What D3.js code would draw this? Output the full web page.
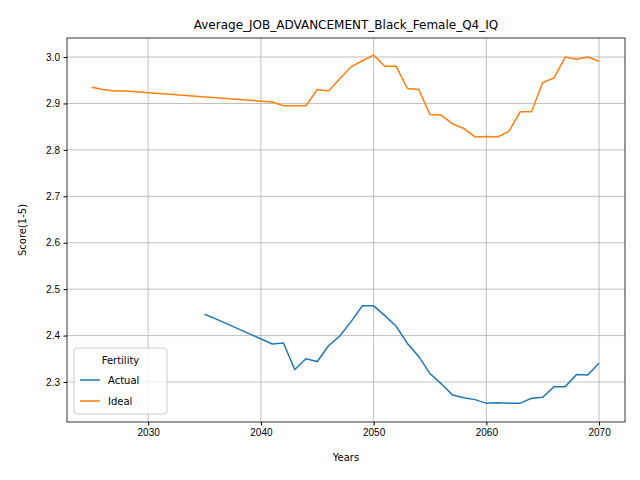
<!DOCTYPE html>
<html><head><meta charset="utf-8">
<script src="https://cdn.jsdelivr.net/npm/d3@7"></script>
<style>body{margin:0;background:#fff}svg{font-family:"DejaVu Sans",sans-serif}</style>
</head><body><svg id="c" width="640" height="480"></svg>
<script>
const idealYears = [2025,2026,2027,2028,2041,2042,2043,2044,2045,2046,2047,2048,2049,2050,2051,2052,2053,2054,2055,2056,2057,2058,2059,2060,2061,2062,2063,2064,2065,2066,2067,2068,2069,2070];
const idealVals = [2.935,2.930,2.927,2.927,2.903,2.895,2.895,2.895,2.930,2.927,2.953,2.979,2.992,3.004,2.980,2.980,2.932,2.930,2.876,2.875,2.856,2.846,2.828,2.829,2.828,2.840,2.882,2.882,2.945,2.955,3.000,2.995,3.000,2.991];
const actualYears = [2035,2036,2041,2042,2043,2044,2045,2046,2047,2048,2049,2050,2051,2052,2053,2054,2055,2056,2057,2058,2059,2060,2061,2062,2063,2064,2065,2066,2067,2068,2069,2070];
const actualVals = [2.446,2.436,2.382,2.384,2.327,2.350,2.344,2.378,2.399,2.430,2.464,2.464,2.443,2.420,2.383,2.355,2.318,2.296,2.272,2.266,2.262,2.254,2.255,2.254,2.254,2.265,2.267,2.290,2.290,2.316,2.315,2.341];
const xTicks = [2030,2040,2050,2060,2070];
const yTicks = [2.3,2.4,2.5,2.6,2.7,2.8,2.9,3.0];

const m = {l:67, r:625, t:38, b:422};
const svg = d3.select("#c");
const x = d3.scaleLinear().domain([2022.8,2072.3]).range([m.l,m.r]);
const y = d3.scaleLinear().domain([2.2138,3.041]).range([m.b,m.t]);

const g = svg.append("g");
g.selectAll(".gx").data(xTicks).join("line").attr("x1",d=>x(d)).attr("x2",d=>x(d)).attr("y1",m.t).attr("y2",m.b).attr("stroke","#b0b0b0").attr("stroke-width",0.8);
g.selectAll(".gy").data(yTicks).join("line").attr("y1",d=>y(d)).attr("y2",d=>y(d)).attr("x1",m.l).attr("x2",m.r).attr("stroke","#b0b0b0").attr("stroke-width",0.8);

const line = d3.line().x(d=>x(d[0])).y(d=>y(d[1]));
svg.append("path").datum(actualYears.map((v,i)=>[v,actualVals[i]])).attr("d",line).attr("fill","none").attr("stroke","#1f77b4").attr("stroke-width",1.5);
svg.append("path").datum(idealYears.map((v,i)=>[v,idealVals[i]])).attr("d",line).attr("fill","none").attr("stroke","#ff7f0e").attr("stroke-width",1.5);

svg.append("g").attr("transform",`translate(0,${m.b})`).call(d3.axisBottom(x).tickValues(xTicks).tickFormat(d3.format("d")).tickSize(3.5).tickPadding(3.5))
  .call(a=>{a.select(".domain").remove();a.selectAll("text").attr("font-size",10).attr("fill","#000");});
svg.append("g").attr("transform",`translate(${m.l},0)`).call(d3.axisLeft(y).tickValues(yTicks).tickFormat(d3.format(".1f")).tickSize(3.5).tickPadding(3.5))
  .call(a=>{a.select(".domain").remove();a.selectAll("text").attr("font-size",10).attr("fill","#000");});
svg.append("rect").attr("x",m.l).attr("y",m.t).attr("width",m.r-m.l).attr("height",m.b-m.t).attr("fill","none").attr("stroke","#000").attr("stroke-width",0.8);

svg.append("text").attr("x",(m.l+m.r)/2).attr("y",29).attr("text-anchor","middle").attr("font-size",12).text("Average_JOB_ADVANCEMENT_Black_Female_Q4_IQ");
svg.append("text").attr("x",(m.l+m.r)/2).attr("y",461).attr("text-anchor","middle").attr("font-size",10).text("Years");
svg.append("text").attr("transform",`translate(26,${(m.t+m.b)/2}) rotate(-90)`).attr("text-anchor","middle").attr("font-size",10).text("Score(1-5)");

const lg = svg.append("g").attr("transform","translate(74,348)");
lg.append("rect").attr("width",93).attr("height",66).attr("rx",3).attr("fill","#fff").attr("fill-opacity",0.8).attr("stroke","#ccc");
lg.append("text").attr("x",46.5).attr("y",16).attr("text-anchor","middle").attr("font-size",10).text("Fertility");
[["Actual","#1f77b4"],["Ideal","#ff7f0e"]].forEach((s,i)=>{
  lg.append("line").attr("x1",6).attr("x2",26).attr("y1",32+i*21).attr("y2",32+i*21).attr("stroke",s[1]).attr("stroke-width",1.5);
  lg.append("text").attr("x",34).attr("y",36+i*21).attr("font-size",10).text(s[0]);
});
</script></body></html>
